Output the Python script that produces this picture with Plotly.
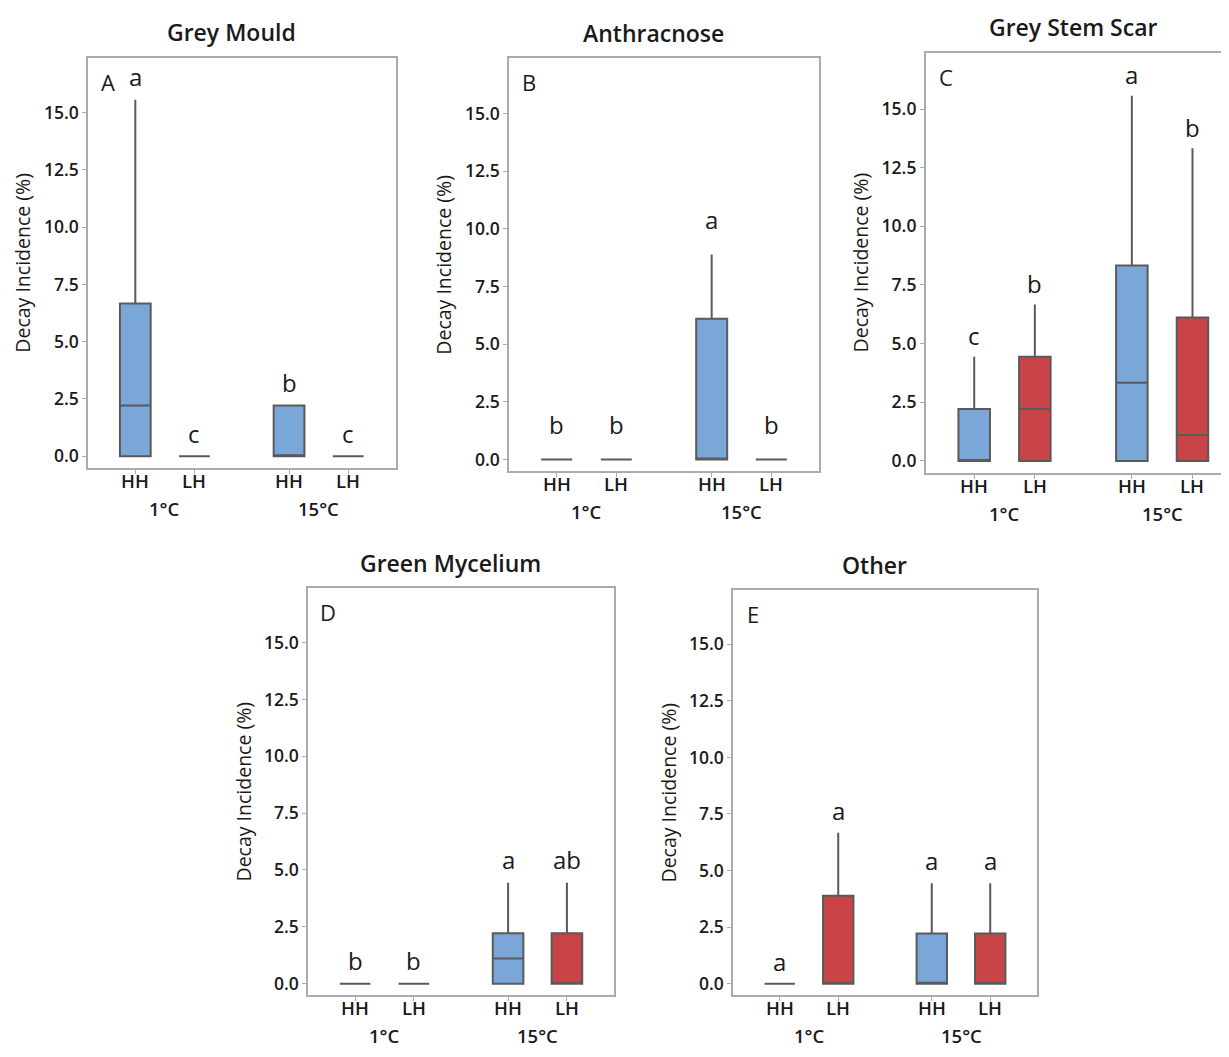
import plotly.graph_objects as go

# ---------------- data ----------------
panel_titles = ["Grey Mould", "Anthracnose", "Grey Stem Scar", "Green Mycelium", "Other"]
panel_tags = ["A", "B", "C", "D", "E"]
groups = ["1°C", "15°C"]
cats = ["HH", "LH", "HH", "LH"]          # HH 1°C, LH 1°C, HH 15°C, LH 15°C
cat_colors = ["#7BA6D8", "#C84446"]
y_ticks = [0.0, 2.5, 5.0, 7.5, 10.0, 12.5, 15.0]

# box statistics per panel, order: HH 1°C, LH 1°C, HH 15°C, LH 15°C
q1 = {
    "Grey Mould":     [0, 0, 0, 0],
    "Anthracnose":    [0, 0, 0, 0],
    "Grey Stem Scar": [0, 0, 0, 0],
    "Green Mycelium": [0, 0, 0, 0],
    "Other":          [0, 0, 0, 0],
}
median = {
    "Grey Mould":     [2.22, 0, 0, 0],
    "Anthracnose":    [0, 0, 0, 0],
    "Grey Stem Scar": [0, 2.22, 3.33, 1.11],
    "Green Mycelium": [0, 0, 1.11, 0],
    "Other":          [0, 0, 0, 0],
}
q3 = {
    "Grey Mould":     [6.67, 0, 2.22, 0],
    "Anthracnose":    [0, 0, 6.11, 0],
    "Grey Stem Scar": [2.22, 4.44, 8.33, 6.11],
    "Green Mycelium": [0, 0, 2.22, 2.22],
    "Other":          [0, 3.89, 2.22, 2.22],
}
upper = {
    "Grey Mould":     [15.56, 0, 2.22, 0],
    "Anthracnose":    [0, 0, 8.89, 0],
    "Grey Stem Scar": [4.44, 6.67, 15.56, 13.33],
    "Green Mycelium": [0, 0, 4.44, 4.44],
    "Other":          [0, 6.67, 4.44, 4.44],
}
# which boxes are drawn in the LH (red) colour
is_lh_colored = {
    "Grey Mould":     [False, False, False, False],
    "Anthracnose":    [False, False, False, False],
    "Grey Stem Scar": [False, True, False, True],
    "Green Mycelium": [False, False, False, True],
    "Other":          [False, True, False, True],
}
letters = {
    "Grey Mould":     ["a", "c", "b", "c"],
    "Anthracnose":    ["b", "b", "a", "b"],
    "Grey Stem Scar": ["c", "b", "a", "b"],
    "Green Mycelium": ["b", "b", "a", "ab"],
    "Other":          ["a", "a", "a", "a"],
}

# ---------------- layout geometry (pixels) ----------------
PAGE_MARGIN = 8                     # default body margin of the html page
W, H = 1229 - 2 * PAGE_MARGIN, 1057 - 2 * PAGE_MARGIN
positions = [1, 2, 3.6, 4.6]
# frame boxes in page pixels: left, right, top, bottom
frames_page = [
    (88, 395.5, 57.7, 467.7),
    (509, 819, 58.4, 471),
    (925.7, 1241, 52.7, 472.7),
    (308, 614, 588, 995),
    (733, 1037, 590, 995),
]
x_ranges = [[0.2, 5.4], [0.2, 5.4], [0.2, 5.4], [0.2, 5.4], [0.2, 5.4]]
y_range = [-0.5, 17.4]
letter_offset = [1.0, 1.5, 0.9, 1.0, 1.0]

FONT = "Open Sans"
TXT = "#1a1a1a"
OUTLINE = "#5a5a5a"
FRAME = "#ababab"

fig = go.Figure()
annotations = []
layout = dict(
    width=W, height=H, autosize=False,
    margin=dict(l=0, r=0, t=0, b=0),
    paper_bgcolor="white", plot_bgcolor="white",
    showlegend=False,
    font=dict(family=FONT, color=TXT),
)

for i, name in enumerate(panel_titles):
    k = "" if i == 0 else str(i + 1)
    xa, ya = "x" + k, "y" + k
    L, R, T, B = [v - PAGE_MARGIN for v in frames_page[i]]
    xr = list(x_ranges[i])
    if R > W:  # panel runs off the right edge: crop its range accordingly
        xr[1] = xr[0] + (xr[1] - xr[0]) * (W - L) / (R - L)
        R = W
    layout["xaxis" + k] = dict(
        domain=[L / W, R / W], range=xr, anchor=ya,
        tickmode="array", tickvals=positions, ticktext=cats, showticklabels=False,
        ticks="outside", ticklen=4, tickcolor=FRAME, tickwidth=1.2,
        showline=True, linecolor=FRAME, linewidth=1.6, mirror=True,
        showgrid=False, zeroline=False, fixedrange=True,
    )
    layout["yaxis" + k] = dict(
        domain=[1 - B / H, 1 - T / H], range=y_range, anchor=xa,
        tickmode="array", tickvals=y_ticks,
        ticktext=[f"{v:.1f}" for v in y_ticks],
        ticks="outside", ticklen=4, tickcolor=FRAME, tickwidth=1.2,
        showline=True, linecolor=FRAME, linewidth=1.6,
        mirror=(R < W),
        showgrid=False, zeroline=False, fixedrange=True,
        tickfont=dict(family=FONT, size=17.5, color=TXT, weight=600),
    )
    for j in range(4):
        color = cat_colors[1] if is_lh_colored[name][j] else cat_colors[0]
        fig.add_trace(go.Box(
            x=[positions[j]], q1=[q1[name][j]], median=[median[name][j]],
            q3=[q3[name][j]], lowerfence=[q1[name][j]], upperfence=[upper[name][j]],
            width=0.52, whiskerwidth=0, boxpoints=False,
            fillcolor=color, line=dict(color=OUTLINE, width=2),
            xaxis=xa, yaxis=ya, hoverinfo="skip",
        ))
        annotations.append(dict(
            x=positions[j], y=upper[name][j] + letter_offset[i], xref=xa, yref=ya,
            text=letters[name][j], showarrow=False, xanchor="center", yanchor="middle",
            font=dict(family=FONT, size=24, color=TXT),
        ))
        # category tick label
        annotations.append(dict(
            x=positions[j], y=0, xref=xa, yref=ya + " domain", yshift=-12.5,
            text=cats[j], showarrow=False, xanchor="center", yanchor="middle",
            font=dict(family=FONT, size=18.5, color=TXT, weight=600),
        ))
    # group labels
    for g, gx in zip(groups, [(positions[0] + positions[1]) / 2, (positions[2] + positions[3]) / 2]):
        annotations.append(dict(
            x=gx, y=0, xref=xa, yref=ya + " domain", yshift=-40.5,
            text=g, showarrow=False, xanchor="center", yanchor="middle",
            font=dict(family=FONT, size=18.5, color=TXT, weight=600),
        ))
    # panel title
    frame_center_page = (frames_page[i][0] + frames_page[i][1]) / 2 - PAGE_MARGIN
    annotations.append(dict(
        x=(frame_center_page - 10.5) / W, y=1, xref="paper", yref=ya + " domain", yshift=25.5,
        text=name, showarrow=False, xanchor="center", yanchor="middle",
        font=dict(family=FONT, size=23, color=TXT, weight=600),
    ))
    # panel tag
    annotations.append(dict(
        x=0, y=1, xref=xa + " domain", yref=ya + " domain", xshift=20, yshift=-24,
        text=panel_tags[i], showarrow=False, xanchor="center", yanchor="middle",
        font=dict(family=FONT, size=22, color=TXT),
    ))
    # y axis title
    annotations.append(dict(
        x=0, y=0.5, xref=xa + " domain", yref=ya + " domain", xshift=-65,
        text="Decay Incidence (%)", textangle=-90, showarrow=False,
        xanchor="center", yanchor="middle",
        font=dict(family=FONT, size=19.5, color=TXT),
    ))

layout["annotations"] = annotations
fig.update_layout(**layout)
fig.write_html("out.html")
